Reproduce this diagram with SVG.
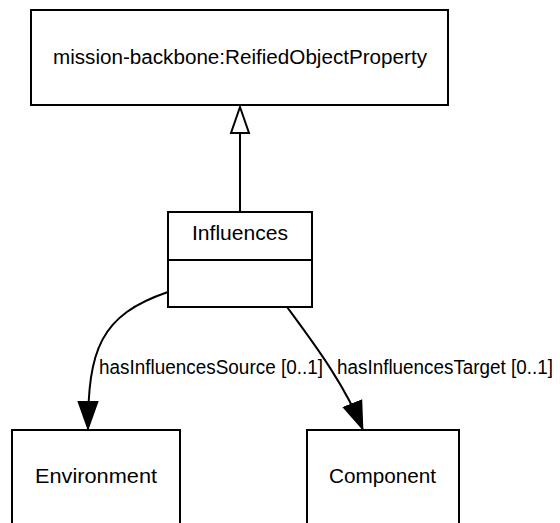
<svg xmlns="http://www.w3.org/2000/svg" width="560" height="523" viewBox="0 0 560 523">
<defs>
<style>
.box{fill:#fff;stroke:#000;stroke-width:2}
.t{font-family:"Liberation Sans",Arial,sans-serif;font-size:19.5px;fill:#000}
.edge{fill:none;stroke:#000;stroke-width:2}
</style>
<marker id="arr" markerUnits="userSpaceOnUse" markerWidth="30" markerHeight="24" viewBox="0 0 28 20" refX="27" refY="10" orient="auto">
<path d="M0,0 L28,10 L0,20 z" fill="#000"/>
</marker>
</defs>
<rect width="560" height="523" fill="#fff"/>
<g id="ReifiedObjectProperty">
<rect class="box" x="31" y="10" width="417" height="95"/>
<text class="t" x="53" y="64" textLength="374" lengthAdjust="spacingAndGlyphs">mission-backbone:ReifiedObjectProperty</text>
</g>
<g id="Influences">
<rect class="box" x="168" y="212" width="144" height="95"/>
<line x1="168" y1="260" x2="312" y2="260" stroke="#000" stroke-width="2"/>
<text class="t" x="192" y="240" textLength="96" lengthAdjust="spacingAndGlyphs">Influences</text>
</g>
<g id="Environment">
<rect class="box" x="12" y="430" width="168" height="100"/>
<text class="t" x="35" y="483" textLength="122" lengthAdjust="spacingAndGlyphs">Environment</text>
</g>
<g id="Component">
<rect class="box" x="307" y="430" width="152" height="100"/>
<text class="t" x="329" y="483" textLength="107" lengthAdjust="spacingAndGlyphs">Component</text>
</g>
<g id="connectors">
<line class="edge" x1="240" y1="133" x2="240" y2="212"/>
<path d="M240,107 L249,133 L231,133 z" fill="#fff" stroke="#000" stroke-width="2"/>
<path class="edge" d="M168,292 C100,315 88,350 88,430" marker-end="url(#arr)"/>
<path class="edge" d="M287,307 C315,345 345,385 363,430" marker-end="url(#arr)"/>
<text class="t" x="99" y="374" textLength="224" lengthAdjust="spacingAndGlyphs">hasInfluencesSource [0..1]</text>
<text class="t" x="337" y="374" textLength="216" lengthAdjust="spacingAndGlyphs">hasInfluencesTarget [0..1]</text>
</g>
</svg>
